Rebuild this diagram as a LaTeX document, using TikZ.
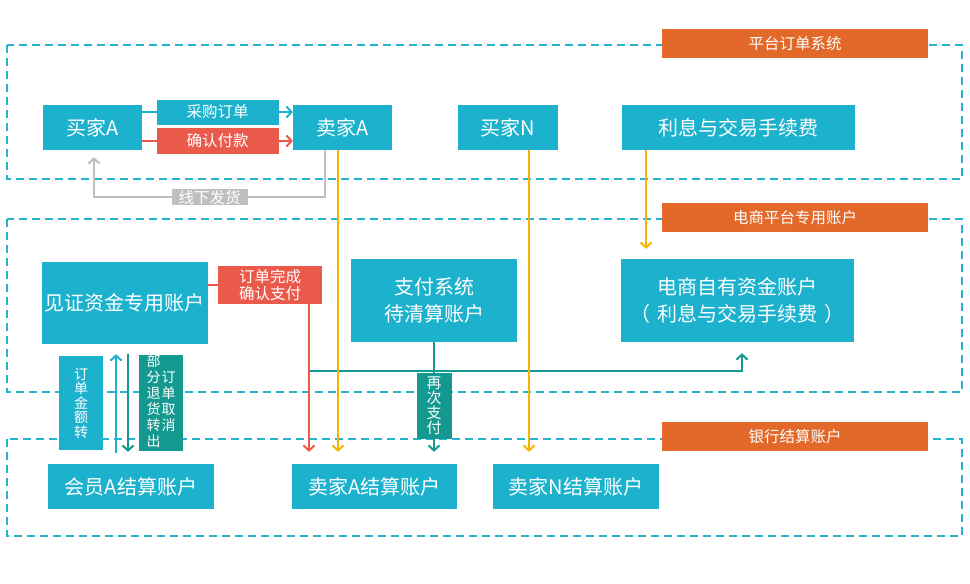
\documentclass[tikz,border=0pt]{standalone}
\usepackage{fontspec}
\setmainfont{Noto Sans CJK SC}
\usetikzlibrary{arrows.meta}
\definecolor{nodecy}{HTML}{1CB2CE}
\definecolor{dashcy}{HTML}{22B4CF}
\definecolor{orng}{HTML}{E2692A}
\definecolor{redc}{HTML}{E95A4B}
\definecolor{tealc}{HTML}{13998F}
\definecolor{grayc}{HTML}{BFBFBF}
\definecolor{yelc}{HTML}{F6B400}
\tikzset{
 mainbox/.style={fill=nodecy, text=white, inner sep=0pt, font=\fontsize{20pt}{27pt}\selectfont, align=center},
 seclabel/.style={fill=orng, text=white, inner sep=0pt, minimum width=266pt, minimum height=29pt, font=\fontsize{15.5pt}{17pt}\selectfont},
 zone/.style={draw=dashcy, line width=2pt, dash pattern=on 8pt off 5pt},
 tagbox/.style={text=white, inner sep=0pt, font=\fontsize{15.5pt}{17pt}\selectfont, align=center},
 vtag/.style={text=white, inner sep=0pt, font=\fontsize{14pt}{14.5pt}\selectfont, align=center},
 conn/.style={line width=2pt, -{Straight Barb[length=5pt,width=11pt]}},
 plainline/.style={line width=2pt}
}
\begin{document}
\begin{tikzpicture}[x=1pt,y=-1pt]
\useasboundingbox (0,0) rectangle (970,584);
% zones
\draw[zone] (7,45) rectangle (962,179);
\draw[zone] (7,219) rectangle (962,392);
\draw[zone] (7,439) rectangle (962,536);
\node[seclabel] (z1) at (795,43.5) {平台订单系统};
\node[seclabel] (z2) at (795,217.5) {电商平台专用账户};
\node[seclabel] (z3) at (795,436.5) {银行结算账户};
% main nodes
\node[mainbox, minimum width=99pt, minimum height=45pt] (buyerA) at (92.5,127.5) {买家A};
\node[mainbox, minimum width=99pt, minimum height=45pt] (sellerA) at (342.5,127.5) {卖家A};
\node[mainbox, minimum width=100pt, minimum height=45pt] (buyerN) at (508,127.5) {买家N};
\node[mainbox, minimum width=233pt, minimum height=45pt] (fee) at (738.5,127.5) {利息与交易手续费};
\node[mainbox, minimum width=166pt, minimum height=82pt] (witness) at (125,303) {见证资金专用账户};
\node[tagbox, fill=redc, minimum width=104pt, minimum height=38pt] (done) at (270,285) {订单完成\\确认支付};
\node[mainbox, minimum width=166pt, minimum height=83pt] (pay) at (434,300.5) {支付系统\\待清算账户};
\node[mainbox, minimum width=233pt, minimum height=83pt] (own) at (737.5,300.5) {电商自有资金账户\\（\hspace{7pt}利息与交易手续费\hspace{7pt}）};
\node[vtag, fill=nodecy, minimum width=44pt, minimum height=94pt] (amt) at (81,403) {订\\单\\金\\额\\转};
\node[vtag, fill=tealc, minimum width=44pt, minimum height=94pt] (refund) at (161,403) {\begin{tabular}[c]{@{}c@{}}部\\分\\退\\货\\转\\出\end{tabular}\hspace{1pt}\begin{tabular}[c]{@{}c@{}}订\\单\\取\\消\end{tabular}};
\node[mainbox, minimum width=166pt, minimum height=45pt] (memberA) at (131,486.5) {会员A结算账户};
\node[mainbox, minimum width=165pt, minimum height=45pt] (sellerAacc) at (374.5,486.5) {卖家A结算账户};
\node[mainbox, minimum width=166pt, minimum height=45pt] (sellerNacc) at (576,486.5) {卖家N结算账户};
% connectors
\draw[conn, draw=nodecy] ([yshift=15.5pt]buyerA.east) -- node[tagbox, fill=nodecy, minimum width=122pt, minimum height=25pt] (lbl1) {采购订单} ([yshift=15.5pt]sellerA.west);
\draw[conn, draw=redc] ([yshift=-13.5pt]buyerA.east) -- node[tagbox, fill=redc, minimum width=122pt, minimum height=26pt] (lbl2) {确认付款} ([yshift=-13.5pt]sellerA.west);
\draw[conn, draw=grayc] ([xshift=-17.5pt]sellerA.south) -- ++(0,47) -| node[pos=0.25, tagbox, fill=grayc, minimum width=76pt, minimum height=16pt] (lbl3) {线下发货} ([xshift=1.5pt,yshift=-7pt]buyerA.south);
\draw[plainline, draw=redc] (witness.east |- done.west) -- (done.west);
\coordinate (hs) at (309,371);
\draw[conn, draw=tealc] (hs) -| ([xshift=4.5pt,yshift=-11pt]own.south);
\draw[conn, draw=tealc] (pay.south) -- node[pos=0.582, vtag, font=\fontsize{15pt}{15pt}\selectfont, fill=tealc, minimum width=35pt, minimum height=66pt] (lbl4) {再\\次\\支\\付} ([xshift=59.5pt,yshift=12pt]sellerAacc.north);
\draw[conn, draw=redc] ([xshift=39pt]done.south) -- ([xshift=-65.5pt,yshift=12pt]sellerAacc.north);
\draw[conn, draw=yelc] ([xshift=-4.5pt]sellerA.south) -- ([xshift=-36.5pt,yshift=12pt]sellerAacc.north);
\draw[conn, draw=yelc] ([xshift=21pt]buyerN.south) -- ([xshift=-47pt,yshift=12pt]sellerNacc.north);
\draw[conn, draw=yelc] ([xshift=-92.5pt]fee.south) -- ([xshift=-91.5pt,yshift=10pt]own.north);
\draw[conn, draw=nodecy] ([xshift=-15pt,yshift=11pt]memberA.north) -- ([xshift=-9pt,yshift=-10pt]witness.south);
\draw[conn, draw=tealc] ([xshift=3pt,yshift=-10pt]witness.south) -- ([xshift=-3pt,yshift=12pt]memberA.north);
\end{tikzpicture}
\end{document}
